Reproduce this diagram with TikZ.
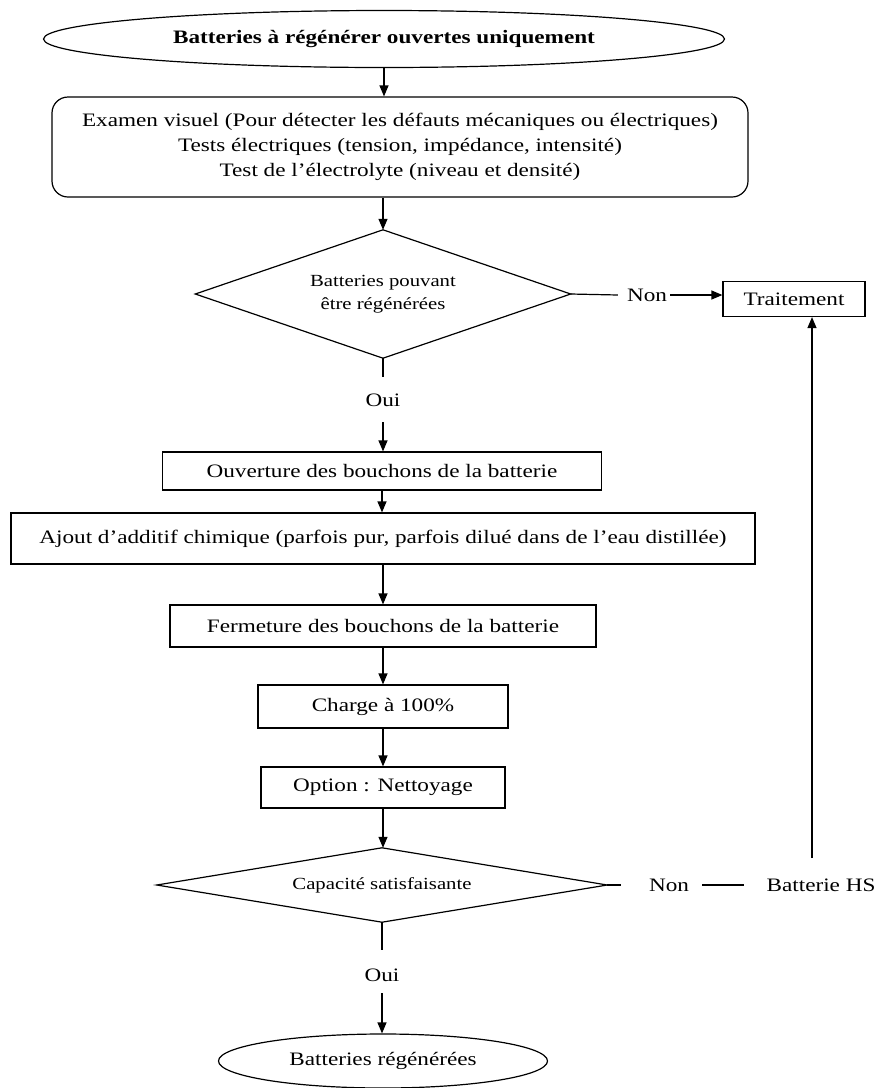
\documentclass[tikz,border=0pt]{standalone}
\usepackage{fontspec}
\setmainfont{Liberation Serif}[FakeStretch=1.22]
\usetikzlibrary{shapes.geometric,arrows.meta}
\begin{document}
\begin{tikzpicture}[x=1pt,y=-1pt,
  txt/.style={font=\fontsize{19}{25}\selectfont, inner sep=0pt},
  small/.style={font=\fontsize{17}{23}\selectfont, inner sep=0pt},
  stepbox/.style={draw, line width=1.2pt, inner sep=0pt, align=center, txt},
  oval/.style={draw, ellipse, line width=1.2pt, inner sep=0pt, txt},
  choice/.style={inner sep=0pt, align=center, small},
  ln/.style={line width=1.2pt},
  arr/.style={ln, -{Triangle[length=11pt,width=9pt]}}
]
\useasboundingbox (0,0) rectangle (877,1088);

\node[oval, minimum width=681pt, minimum height=57pt, font=\fontsize{19}{25}\selectfont\bfseries] (start) at (384,39) {Batteries à régénérer ouvertes uniquement};
\node[stepbox, rounded corners=16pt, minimum width=696pt, minimum height=100pt] (exam) at (400,147)
 {Examen visuel (Pour détecter les défauts mécaniques ou électriques)\\Tests électriques (tension, impédance, intensité)\\Test de l’électrolyte (niveau et densité)};
\node[choice, minimum width=375pt, minimum height=128pt] (d1) at (383,294) {Batteries pouvant\\être régénérées};
\draw[ln] (d1.north) -- (d1.east) -- (d1.south) -- (d1.west) -- cycle;
\node[txt] (oui1) at (383,400) {Oui};
\node[stepbox, minimum width=439pt, minimum height=38pt] (b1) at (382,471) {Ouverture des bouchons de la batterie};
\node[stepbox, minimum width=744pt, minimum height=51pt] (b2) at (383,538.5) {Ajout d’additif chimique (parfois pur, parfois dilué dans de l’eau distillée)};
\node[stepbox, minimum width=426pt, minimum height=42pt] (b3) at (383,626) {Fermeture des bouchons de la batterie};
\node[stepbox, minimum width=250pt, minimum height=43pt] (b4) at (383,706.5) {Charge à 100\%};
\node[stepbox, minimum width=244pt, minimum height=41pt] (b5) at (383,787.5) {Option : Nettoyage};
\node[choice, minimum width=450pt, minimum height=74pt] (d2) at (382,885) {Capacité satisfaisante};
\draw[ln] (d2.north) -- (d2.east) -- (d2.south) -- (d2.west) -- cycle;
\node[txt] (oui2) at (382,975) {Oui};
\node[oval, minimum width=329pt, minimum height=54pt] (end) at (383,1061) {Batteries régénérées};

\node[txt] (non1) at (647,295) {Non};
\node[stepbox, minimum width=142pt, minimum height=35pt] (trait) at (794,299) {Traitement};
\node[txt] (non2) at (669,885) {Non};
\node[txt] (hs) at (821,885) {Batterie HS};

\coordinate (s1) at (383,377);
\coordinate (a1) at (383,422);
\coordinate (s2) at (382,950);
\coordinate (a2) at (382,993);
\coordinate (t2) at (621,885);
\coordinate (hstop) at (812,858);

\draw[arr] (start.south) -- (start.south |- exam.north);
\draw[arr] (exam.south -| d1.north) -- (d1.north);
\draw[ln] (d1.south) -- (s1);
\draw[arr] (a1) -- (b1.north -| a1);
\draw[arr] (b1.south) -- (b2.north -| b1.south);
\draw[arr] (b2.south -| b3.north) -- (b3.north);
\draw[arr] (b3.south) -- (b4.north -| b3.south);
\draw[arr] (b4.south) -- (b5.north -| b4.south);
\draw[arr] (b5.south) -- (d2.north -| b5.south);
\draw[ln] (d2.south) -- (s2);
\draw[arr] (a2) -- (end.north -| a2);

\draw[ln] (d1.east) -- ([xshift=-9pt]non1.west);
\draw[arr] ([xshift=3pt]non1.east) -- (non1.east -| trait.west);
\draw[ln] (d2.east) -- (t2);
\draw[ln] ([xshift=13pt]non2.east) -- ([xshift=-22pt]hs.west);
\draw[arr] (hstop) -- (hstop |- trait.south);
\end{tikzpicture}
\end{document}
